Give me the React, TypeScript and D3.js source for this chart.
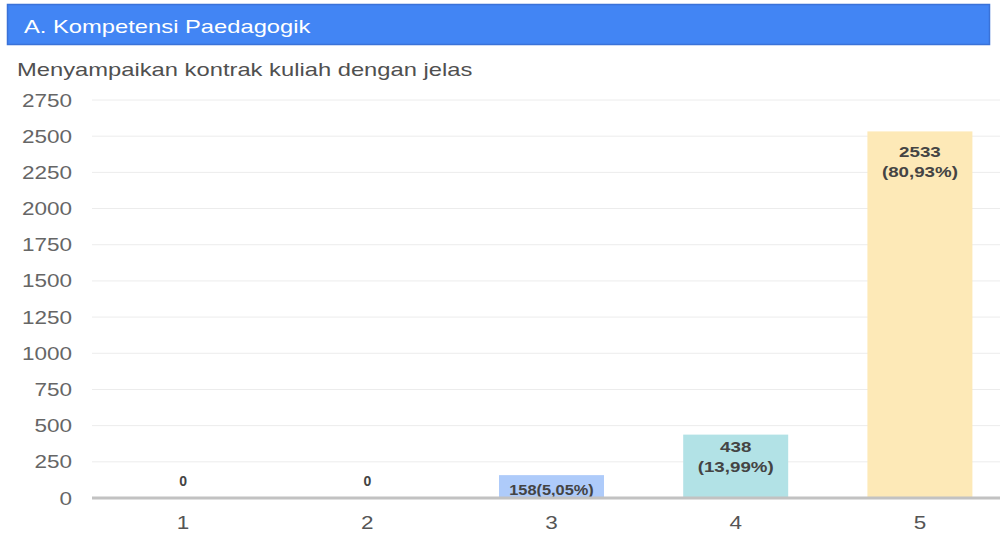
import * as d3 from "d3";

const categories = ["1", "2", "3", "4", "5"];
const counts = [0, 0, 158, 438, 2533];
const percents = ["0,00", "0,00", "5,05", "13,99", "80,93"];
const yTicks = [0, 250, 500, 750, 1000, 1250, 1500, 1750, 2000, 2250, 2500, 2750];
const barColors = ["#aecbfa", "#aecbfa", "#aecbfa", "#b2e2e6", "#fde9b7"];

const title = "A. Kompetensi Paedagogik";
const subtitle = "Menyampaikan kontrak kuliah dengan jelas";

const W = 1000;
const H = 533;
const FONT = "'Liberation Sans', Arial, sans-serif";
const SX = 1.25; // the source screenshot is stretched horizontally

export default function App() {
  const x = d3
    .scaleBand<string>()
    .domain(categories)
    .range([91, 1012])
    .paddingInner(0.43)
    .paddingOuter(0.215);

  const y = d3.scaleLinear().domain([0, 2750]).range([498, 100]);

  const stretched = (tx: number, ty: number, s = SX) => `translate(${tx},${ty}) scale(${s},1)`;

  return (
    <svg
      width={W}
      height={H}
      style={{ position: "absolute", left: 0, top: 0, background: "#fff" }}
      fontFamily={FONT}
    >
      {/* header bar */}
      <rect x={7.5} y={4.5} width={982} height={40} fill="#4285f4" stroke="#3a72d8" strokeWidth={1.5} />
      <text transform={stretched(24, 33)} fill="#fff" fontSize={19}>
        {title}
      </text>

      {/* subtitle */}
      <text transform={stretched(17, 76)} fill="#505050" fontSize={19}>
        {subtitle}
      </text>

      {/* grid */}
      {yTicks.map((t) => (
        <g key={t}>
          {t > 0 && <line x1={92} x2={W} y1={y(t)} y2={y(t)} stroke="#ececec" strokeWidth={1} />}
          <text
            transform={stretched(72, y(t) + 6.5)}
            textAnchor="end"
            fill="#666"
            fontSize={18}
          >
            {t}
          </text>
        </g>
      ))}

      {/* bars */}
      {categories.map((c, i) => {
        const v = counts[i];
        const bx = x(c) ?? 0;
        const top = y(v);
        const h = y(0) - top;
        const cx = bx + x.bandwidth() / 2;
        return (
          <g key={c}>
            {v > 0 && <rect x={bx} y={top} width={x.bandwidth()} height={h} fill={barColors[i]} />}
            {v === 0 && (
              <text x={cx} y={y(0) - 12} textAnchor="middle" fill="#444" fontSize={14} fontWeight="bold">
                {v}
              </text>
            )}
            {v > 0 && h < 40 && (
              <text transform={stretched(cx, y(0) - 3, 1.17)} textAnchor="middle" fill="#444" fontSize={14} fontWeight="bold">
                {`${v}(${percents[i]}%)`}
              </text>
            )}
            {v > 0 && h >= 40 && (
              <text transform={stretched(cx, top)} textAnchor="middle" fill="#444" fontSize={15} fontWeight="bold">
                <tspan x={0} y={h > 100 ? 26 : 17}>{v}</tspan>
                <tspan x={0} dy={20}>{`(${percents[i]}%)`}</tspan>
              </text>
            )}
          </g>
        );
      })}

      {/* baseline */}
      <line x1={92} x2={W} y1={y(0)} y2={y(0)} stroke="#c2c2c2" strokeWidth={3} />

      {/* x labels */}
      {categories.map((c) => (
        <text
          key={c}
          transform={stretched((x(c) ?? 0) + x.bandwidth() / 2, 529)}
          textAnchor="middle"
          fill="#555"
          fontSize={18}
        >
          {c}
        </text>
      ))}
    </svg>
  );
}
